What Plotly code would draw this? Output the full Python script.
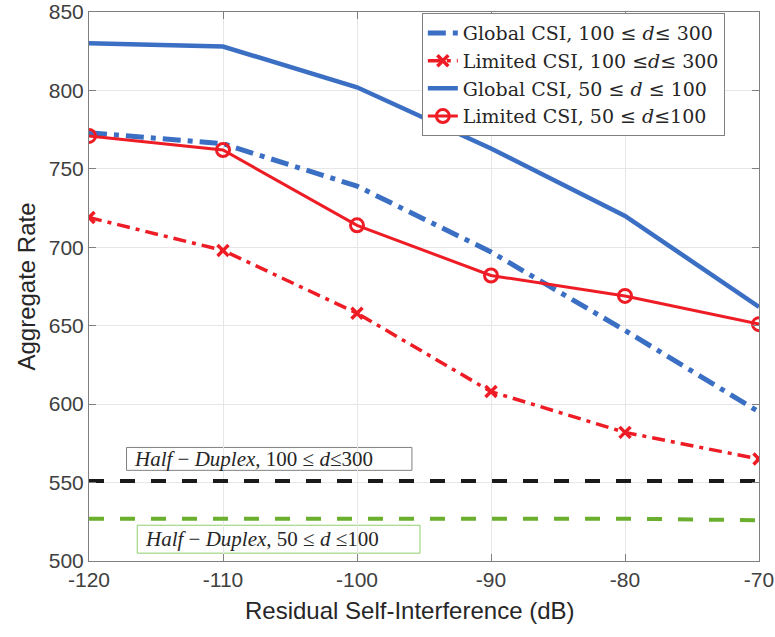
import plotly.graph_objects as go

x = [-120, -110, -100, -90, -80, -70]
x_ticktext = ["-120", "-110", "-100", "-90", "-80", "-70"]
y_ticks = [500, 550, 600, 650, 700, 750, 800, 850]
global_100_300 = [773, 766, 739, 697, 647, 595]
limited_100_300 = [719, 698, 658, 608, 582, 565]
global_50_100 = [830, 828, 802, 763, 720, 662]
limited_50_100 = [771, 762, 714, 682, 669, 651]
hd_100_300 = [551, 551, 551, 551, 551, 551]
hd_50_100 = [527, 527, 527, 527.5, 527, 526]

blue = "#3b6fc4"
red = "#ee1c25"

fig = go.Figure()
fig.add_trace(go.Scatter(x=x, y=global_100_300, mode="lines",
    name="Global CSI, 100 ≤ <i>d</i>≤ 300",
    line=dict(color=blue, width=5, dash="18px,7px,5px,7px")))
fig.add_trace(go.Scatter(x=x, y=limited_100_300, mode="lines+markers",
    name="Limited CSI, 100 ≤<i>d</i>≤ 300",
    line=dict(color=red, width=3.5, dash="13px,6px,4px,6px"),
    marker=dict(symbol="x-thin", size=11, line=dict(color=red, width=3.5))))
fig.add_trace(go.Scatter(x=x, y=global_50_100, mode="lines",
    name="Global CSI, 50 ≤ <i>d</i> ≤ 100",
    line=dict(color=blue, width=4.5)))
fig.add_trace(go.Scatter(x=x, y=limited_50_100, mode="lines+markers",
    name="Limited CSI, 50 ≤ <i>d</i>≤100",
    line=dict(color=red, width=3),
    marker=dict(symbol="circle-open", size=13, color=red, line=dict(color=red, width=3))))
fig.add_trace(go.Scatter(x=x, y=hd_100_300, mode="lines", showlegend=False,
    line=dict(color="#1a1a1a", width=4, dash="15px,16px")))
fig.add_trace(go.Scatter(x=x, y=hd_50_100, mode="lines", showlegend=False,
    line=dict(color="#6ab02e", width=4, dash="15px,16px")))

serif = "Liberation Serif, DejaVu Serif, serif"
legend_serif = "DejaVu Serif, Liberation Serif, serif"
sans = "Liberation Sans, Arial, sans-serif"

# annotation boxes
fig.add_shape(type="rect", xref="x", yref="y", x0=-117.2, x1=-95.9, y0=557.8, y1=572.4,
              line=dict(color="#808080", width=1), fillcolor="white", layer="below")
fig.add_shape(type="rect", xref="x", yref="y", x0=-116.4, x1=-95.3, y0=505.0, y1=522.8,
              line=dict(color="#8fcf6a", width=1), fillcolor="white", layer="below")
fig.add_annotation(x=-116.8, y=565.1, xref="x", yref="y", xanchor="left", yanchor="middle",
    text="<i>Half</i> − <i>Duplex</i>, 100 ≤ <i>d</i>≤300", showarrow=False,
    font=dict(family=serif, size=21, color="#262626"))
fig.add_annotation(x=-116.0, y=513.9, xref="x", yref="y", xanchor="left", yanchor="middle",
    text="<i>Half</i> − <i>Duplex</i>, 50 ≤ <i>d</i> ≤100", showarrow=False,
    font=dict(family=serif, size=21, color="#262626"))

# x-axis title (slightly left of centre, as in the reference)
fig.add_annotation(x=0.479, y=0, xref="paper", yref="paper", yshift=-49,
    xanchor="center", yanchor="middle", showarrow=False,
    text="Residual Self-Interference (dB)",
    font=dict(family=sans, size=24, color="#262626"))

axis_common = dict(showgrid=True, gridcolor="#e6e6e6", gridwidth=1,
    showline=True, linecolor="#808080", linewidth=1, mirror="ticks",
    ticks="inside", ticklen=7, tickcolor="#808080", zeroline=False,
    ticklabeloverflow="allow", automargin=False,
    tickfont=dict(family=sans, size=21, color="#404040"))

fig.update_layout(
    width=775, height=637,
    margin=dict(l=89, r=16, t=12, b=76),
    plot_bgcolor="white", paper_bgcolor="white",
    xaxis=dict(range=[-120, -70], tickmode="array", tickvals=x, ticktext=x_ticktext,
               **axis_common),
    yaxis=dict(range=[500, 850], tickmode="array", tickvals=y_ticks,
               ticktext=[str(v) for v in y_ticks],
               title=dict(text="Aggregate Rate", standoff=6,
                          font=dict(family=sans, size=24, color="#262626")),
               **axis_common),
    legend=dict(x=0.949, y=0.998, xanchor="right", yanchor="top",
                bgcolor="white", bordercolor="#808080", borderwidth=1,
                font=dict(family=legend_serif, size=19, color="#262626"),
                tracegroupgap=0, itemwidth=30),
    showlegend=True,
)

fig.write_html("out.html")
